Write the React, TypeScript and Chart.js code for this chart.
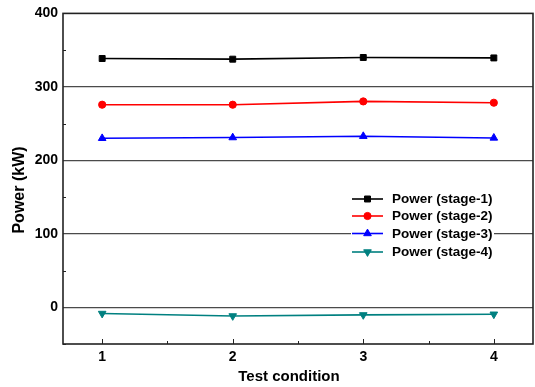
import React, { useEffect, useRef } from "react";
import { Chart, registerables } from "chart.js";

Chart.register(...registerables);

const categories = [1, 2, 3, 4];
const stage1 = [338.6, 337.7, 340.0, 339.4];
const stage2 = [275.7, 275.7, 280.2, 278.4];
const stage3 = [230.0, 231.0, 232.8, 230.5];
const stage4 = [-8.5, -11.8, -10.4, -9.5];
const seriesNames = ["Power (stage-1)", "Power (stage-2)", "Power (stage-3)", "Power (stage-4)"];
const yTickValues = [0, 100, 200, 300, 400];
const yMinorValues = [-50, 50, 150, 250, 350];
const xMinorValues = [1.5, 2.5, 3.5];
const xTitle = "Test condition";
const yTitle = "Power (kW)";

const FONT = '"Liberation Sans", Arial, sans-serif';

const styles = [
  { color: "#000000", pointStyle: "rect", radius: 4.2, rotation: 0 },
  { color: "#ff0000", pointStyle: "circle", radius: 3.6, rotation: 0 },
  { color: "#0000ff", pointStyle: "triangle", radius: 4.4, rotation: 0 },
  { color: "#008080", pointStyle: "triangle", radius: 4.4, rotation: 180 },
];

function drawMarker(ctx: CanvasRenderingContext2D, s: any, x: number, y: number) {
  const r = s.radius;
  ctx.beginPath();
  if (s.pointStyle === "rect") {
    const h = Math.SQRT1_2 * r;
    ctx.rect(x - h, y - h, 2 * h, 2 * h);
  } else if (s.pointStyle === "circle") {
    ctx.arc(x, y, r, 0, Math.PI * 2);
  } else {
    const dir = s.rotation === 180 ? -1 : 1;
    const ang = (2 * Math.PI) / 3;
    for (let k = 0; k < 3; k++) {
      const t = k * ang;
      const px = x + Math.sin(t) * r;
      const py = y - dir * Math.cos(t) * r;
      if (k === 0) ctx.moveTo(px, py);
      else ctx.lineTo(px, py);
    }
    ctx.closePath();
  }
  ctx.fill();
  ctx.stroke();
}

const decor = {
  id: "decor",
  afterDraw(chart: any) {
    const { ctx, chartArea: a, scales } = chart;
    const xs = scales.x;
    const ys = scales.y;
    ctx.save();
    // frame
    ctx.strokeStyle = "#222";
    ctx.lineWidth = 1.6;
    ctx.strokeRect(a.left, a.top, a.right - a.left, a.bottom - a.top);
    // ticks
    ctx.lineWidth = 1;
    ctx.beginPath();
    categories.forEach((c) => {
      const px = Math.round(xs.getPixelForValue(c)) + 0.5;
      ctx.moveTo(px, a.bottom);
      ctx.lineTo(px, a.bottom - 5);
    });
    xMinorValues.forEach((c) => {
      const px = Math.round(xs.getPixelForValue(c)) + 0.5;
      ctx.moveTo(px, a.bottom);
      ctx.lineTo(px, a.bottom - 3);
    });
    yMinorValues.forEach((v) => {
      const py = Math.round(ys.getPixelForValue(v)) + 0.5;
      ctx.moveTo(a.left, py);
      ctx.lineTo(a.left + 3, py);
    });
    ctx.stroke();
    // titles
    ctx.fillStyle = "#000";
    ctx.font = `bold 15px ${FONT}`;
    ctx.textAlign = "center";
    ctx.textBaseline = "middle";
    ctx.fillText(xTitle, 289, 377);
    ctx.save();
    ctx.translate(20, 190);
    ctx.rotate(-Math.PI / 2);
    ctx.font = `bold 16px ${FONT}`;
    ctx.fillText(yTitle, 0, 0);
    ctx.restore();
    // legend
    ctx.fillStyle = "#fff";
    ctx.fillRect(351, 189, 143, 72);
    const rows = [199, 216, 233.5, 252];
    styles.forEach((s, i) => {
      const y = rows[i];
      ctx.strokeStyle = s.color;
      ctx.lineWidth = 1.6;
      ctx.beginPath();
      ctx.moveTo(352, y);
      ctx.lineTo(383, y);
      ctx.stroke();
      ctx.fillStyle = s.color;
      ctx.strokeStyle = s.color;
      ctx.lineWidth = 1;
      drawMarker(ctx, s, 367.5, y);
      ctx.fillStyle = "#000";
      ctx.font = `bold 13.5px ${FONT}`;
      ctx.textAlign = "left";
      ctx.textBaseline = "middle";
      ctx.fillText(seriesNames[i], 392, y + 0.5);
    });
    ctx.restore();
  },
};

export default function App() {
  const ref = useRef<HTMLCanvasElement | null>(null);
  useEffect(() => {
    if (!ref.current) return;
    const all = [stage1, stage2, stage3, stage4];
    const chart = new Chart(ref.current, {
      type: "line",
      data: {
        datasets: all.map((vals, i) => ({
          label: seriesNames[i],
          data: categories.map((c, j) => ({ x: c, y: vals[j] })),
          borderColor: styles[i].color,
          backgroundColor: styles[i].color,
          pointBackgroundColor: styles[i].color,
          pointBorderColor: styles[i].color,
          pointStyle: styles[i].pointStyle as any,
          pointRadius: styles[i].radius,
          pointRotation: styles[i].rotation,
          pointBorderWidth: 1,
          borderWidth: 1.6,
          tension: 0,
        })),
      },
      options: {
        responsive: false,
        animation: false,
        devicePixelRatio: 1,
        layout: { padding: { left: 0, top: 12, right: 2, bottom: 0 }, autoPadding: false } as any,
        plugins: { legend: { display: false }, tooltip: { enabled: false } },
        scales: {
          x: {
            type: "linear",
            min: 0.7,
            max: 4.3,
            afterBuildTicks: (s: any) => {
              s.ticks = categories.map((v) => ({ value: v }));
            },
            afterFit: (s: any) => {
              s.height = 43;
            },
            grid: { display: false, drawTicks: false },
            border: { display: false },
            ticks: {
              padding: 5,
              color: "#000",
              font: { family: FONT, size: 14, weight: "bold" },
              maxRotation: 0,
            },
          },
          y: {
            type: "linear",
            min: -50,
            max: 400,
            afterBuildTicks: (s: any) => {
              s.ticks = yTickValues.map((v) => ({ value: v }));
            },
            afterFit: (s: any) => {
              s.width = 63;
            },
            grid: {
              drawTicks: false,
              color: (c: any) => (c.tick && c.tick.value === 400 ? "rgba(0,0,0,0)" : "#4a4a4a"),
              lineWidth: 1.3,
            },
            border: { display: false },
            ticks: {
              padding: 5,
              color: "#000",
              font: { family: FONT, size: 14, weight: "bold" },
            },
          },
        },
      },
      plugins: [decor],
    });
    return () => chart.destroy();
  }, []);
  return (
    <div style={{ position: "fixed", left: 0, top: 0, width: 535, height: 387, background: "#fff" }}>
      <canvas ref={ref} width={535} height={387} style={{ display: "block", width: 535, height: 387 }} />
    </div>
  );
}
